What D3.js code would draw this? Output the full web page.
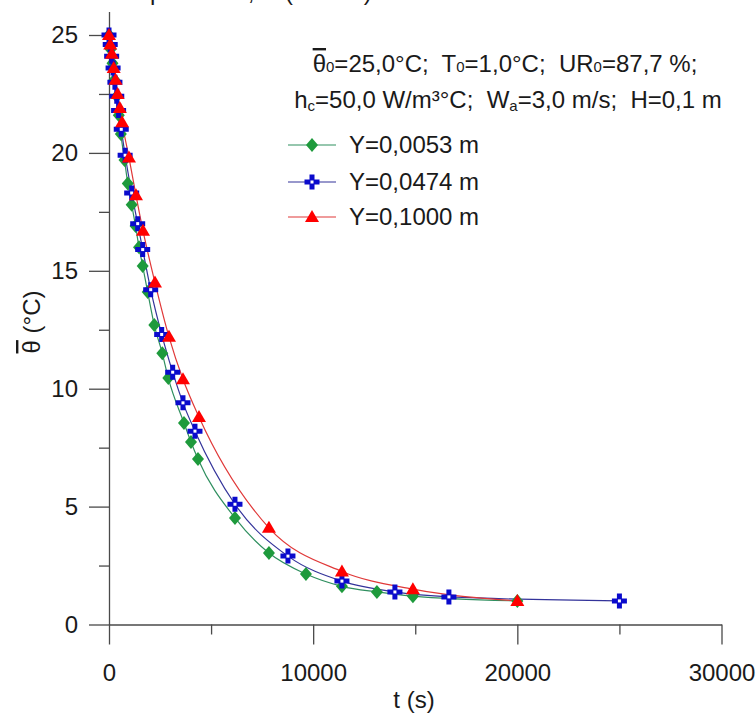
<!DOCTYPE html>
<html><head><meta charset="utf-8">
<script src="https://cdn.jsdelivr.net/npm/d3@7"></script>
<style>
body{margin:0;background:#fff;}
text{font-family:"Liberation Sans",Arial,sans-serif;fill:#1a1a1a;}
</style></head><body>
<svg id="c" width="756" height="716"></svg>
<script>
// ---------- data ----------
const seriesLabels = ["Y=0,0053 m", "Y=0,0474 m", "Y=0,1000 m"];
const tY1 = [0, 80, 170, 270, 380, 480, 580, 760, 920, 1111, 1300, 1470, 1650, 1895, 2218, 2610, 2904, 3672, 4015, 4358, 6170, 7834, 9646, 11409, 13122, 14885, 20000];
const thetaY1 = [25.0, 24.4, 23.8, 23.1, 22.4, 21.6, 20.8, 19.7, 18.7, 17.8, 16.9, 16.0, 15.2, 14.1, 12.7, 11.5, 10.45, 8.55, 7.74, 7.02, 4.52, 3.03, 2.14, 1.62, 1.38, 1.2, 1.0];
const tY2 = [0, 60, 130, 200, 290, 380, 470, 600, 790, 1111, 1405, 1650, 2042, 2580, 3119, 3623, 4211, 6170, 8765, 11409, 14004, 16648, 25000];
const thetaY2 = [25.0, 24.6, 24.1, 23.6, 23.0, 22.4, 21.8, 21.0, 19.9, 18.3, 17.0, 15.9, 14.2, 12.3, 10.7, 9.4, 8.2, 5.1, 2.9, 1.84, 1.38, 1.17, 1.0];
const tY3 = [0, 60, 140, 230, 320, 420, 530, 640, 979, 1322, 1665, 2252, 2938, 3623, 4407, 7834, 11409, 14885, 20000];
const thetaY3 = [25.0, 24.6, 24.2, 23.6, 23.1, 22.5, 21.9, 21.3, 19.8, 18.2, 16.7, 14.5, 12.2, 10.4, 8.8, 4.1, 2.25, 1.5, 1.0];
const xTicksMajor = [0, 10000, 20000, 30000];
const xTicksMinor = [5000, 15000, 25000];
const yTicksMajor = [0, 5, 10, 15, 20, 25];
const yTicksMinor = [2.5, 7.5, 12.5, 17.5, 22.5];

const series = [
  {name: seriesLabels[0], t: tY1, v: thetaY1, line: "#2f8f5f", fill: "#1e9a3c", marker: "diamond"},
  {name: seriesLabels[1], t: tY2, v: thetaY2, line: "#33339a", fill: "#0a0acc", marker: "cross"},
  {name: seriesLabels[2], t: tY3, v: thetaY3, line: "#e03838", fill: "#ff0000", marker: "triangle"}
];

// ---------- scales ----------
const svg = d3.select("#c");
const x = d3.scaleLinear().domain([0, 30000]).range([109, 721.5]);
const y = d3.scaleLinear().domain([0, 26]).range([624.5, 624.5 - 26 * 23.58]);
const axisColor = "#4a4a4a";
const fs = 24;

// ---------- axes ----------
function styleAxis(g) {
  g.selectAll("path.domain").attr("stroke", axisColor).attr("stroke-width", 1.3);
  g.selectAll(".tick line").attr("stroke", axisColor).attr("stroke-width", 1.3);
  g.selectAll(".tick text").attr("font-size", fs).attr("font-family", '"Liberation Sans",Arial,sans-serif').attr("fill", "#1a1a1a");
}
const gx = svg.append("g").attr("transform", `translate(0,${y(0)})`)
  .call(d3.axisBottom(x).tickValues(xTicksMajor).tickSize(20).tickSizeOuter(0).tickPadding(19).tickFormat(d3.format("d")));
styleAxis(gx);
const gxm = svg.append("g").attr("transform", `translate(0,${y(0)})`)
  .call(d3.axisBottom(x).tickValues(xTicksMinor).tickSize(10).tickSizeOuter(0).tickFormat(""));
styleAxis(gxm); gxm.select("path.domain").remove();

const gy = svg.append("g").attr("transform", `translate(${x(0)},0)`)
  .call(d3.axisLeft(y).tickValues(yTicksMajor).tickSize(20).tickSizeOuter(0).tickPadding(11).tickFormat(d3.format("d")));
styleAxis(gy);
const gym = svg.append("g").attr("transform", `translate(${x(0)},0)`)
  .call(d3.axisLeft(y).tickValues(yTicksMinor).tickSize(10).tickSizeOuter(0).tickFormat(""));
styleAxis(gym); gym.select("path.domain").remove();

// axis titles
svg.append("text").attr("x", 414).attr("y", 708).attr("text-anchor", "middle").attr("font-size", fs).text("t (s)");
const yt = svg.append("text").attr("transform", "translate(40,322) rotate(-90)").attr("text-anchor", "middle").attr("font-size", fs);
yt.append("tspan").attr("text-decoration", "overline").text("θ");
yt.append("tspan").text(" (°C)");

// title, cut off at the top edge as in the original figure
svg.append("text").attr("x", 150).attr("y", 0).attr("font-size", fs).text("para Y=0, H (caso 1)");

// ---------- markers ----------
function marker(g, kind, fill) {
  if (kind === "diamond") {
    g.append("path").attr("d", "M0,-7L6,0L0,7L-6,0Z").attr("fill", fill);
  } else if (kind === "triangle") {
    g.append("path").attr("d", "M0,-7L7,5L-7,5Z").attr("fill", fill);
  } else {
    g.append("path").attr("d", d3.symbol(d3.symbolCross, 125)()).attr("fill", fill);
    g.append("rect").attr("x", -1.5).attr("y", -1.5).attr("width", 3).attr("height", 3).attr("fill", "#fff");
  }
}

// ---------- lines ----------
const lineGen = d3.line().x(d => x(d[0])).y(d => y(d[1])).curve(d3.curveMonotoneX);
series.forEach(s => {
  const pts = s.t.map((t, i) => [t, s.v[i]]);
  svg.append("path").attr("d", lineGen(pts)).attr("fill", "none").attr("stroke", s.line).attr("stroke-width", 1.2);
});
series.forEach(s => {
  s.t.forEach((t, i) => {
    const g = svg.append("g").attr("transform", `translate(${x(t)},${y(s.v[i])})`);
    marker(g, s.marker, s.fill);
  });
});

// ---------- annotation ----------
const ann1 = svg.append("text").attr("x", 505).attr("y", 72).attr("text-anchor", "middle").attr("font-size", fs).style("white-space", "pre");
ann1.append("tspan").attr("text-decoration", "overline").text("θ");
ann1.append("tspan").attr("font-size", 15).text("0");
ann1.append("tspan").text("=25,0°C;  T");
ann1.append("tspan").attr("font-size", 15).text("0");
ann1.append("tspan").text("=1,0°C;  UR");
ann1.append("tspan").attr("font-size", 15).text("0");
ann1.append("tspan").text("=87,7 %;");

const ann2 = svg.append("text").attr("x", 508).attr("y", 108).attr("text-anchor", "middle").attr("font-size", fs).style("white-space", "pre");
ann2.append("tspan").text("h");
ann2.append("tspan").attr("font-size", 15).attr("dy", 3).text("c");
ann2.append("tspan").attr("dy", -3).text("=50,0 W/m³°C;  W");
ann2.append("tspan").attr("font-size", 15).attr("dy", 3).text("a");
ann2.append("tspan").attr("dy", -3).text("=3,0 m/s;  H=0,1 m");

// ---------- legend ----------
const legendY = [145, 182, 217];
series.forEach((s, i) => {
  const ly = legendY[i];
  svg.append("line").attr("x1", 288).attr("x2", 336).attr("y1", ly).attr("y2", ly).attr("stroke", s.line).attr("stroke-width", 1.2);
  const g = svg.append("g").attr("transform", `translate(312,${ly})`);
  marker(g, s.marker, s.fill);
  svg.append("text").attr("x", 349).attr("y", ly).attr("dy", "0.35em").attr("font-size", fs).text(s.name);
});
</script>
</body></html>
